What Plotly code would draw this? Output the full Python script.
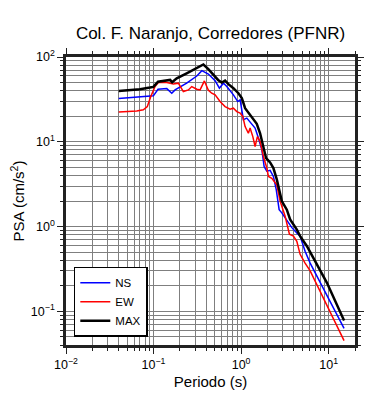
import plotly.graph_objects as go

# Periods (s) and PSA (cm/s^2)
T_ns = [0.04, 0.0643, 0.0912, 0.0995, 0.1125, 0.1416, 0.1615, 0.176, 0.239, 0.312,
        0.356, 0.423, 0.505, 0.565, 0.628, 0.687, 0.817, 0.916, 0.975, 1.062,
        1.162, 1.267, 1.445, 1.577, 1.724, 1.833, 1.966, 2.144, 2.339, 2.52,
        2.72, 2.917, 3.47, 3.8, 4.33, 4.72, 5.38, 6.15, 15.0]
psa_ns = [32.3, 33.6, 34.1, 34.8, 41.7, 42.4, 37.4, 40.9, 49.1, 59.7,
          69.0, 63.0, 52.6, 42.8, 49.1, 44.8, 35.7, 29.8, 31.2, 18.2,
          19.0, 16.9, 14.5, 11.1, 8.1, 5.1, 4.5, 4.6, 3.9, 2.72,
          1.58, 1.45, 1.11, 0.97, 0.84, 0.77, 0.51, 0.37, 0.063]

T_ew = [0.04, 0.0643, 0.0764, 0.0849, 0.0929, 0.104, 0.1135, 0.1416, 0.1683, 0.192,
        0.219, 0.25, 0.273, 0.312, 0.34, 0.381, 0.423, 0.462, 0.505, 0.575,
        0.656, 0.748, 0.817, 0.893, 0.975, 1.045, 1.111, 1.211, 1.267, 1.361,
        1.445, 1.535, 1.648, 1.799, 1.966, 2.052, 2.243, 2.557, 2.79, 3.184,
        3.565, 3.963, 4.33, 4.721, 5.38, 6.15, 15.0]
psa_ew = [22.5, 23.0, 23.8, 26.0, 34.1, 44.8, 49.9, 49.9, 48.1, 49.1,
          39.1, 40.9, 44.8, 41.7, 40.9, 52.2, 40.6, 37.4, 35.7, 29.8,
          26.0, 24.2, 24.9, 22.7, 21.8, 19.9, 15.1, 12.6, 14.5, 11.5,
          8.8, 11.5, 10.1, 6.7, 4.9, 3.9, 3.7, 3.1, 1.99, 1.32,
          0.81, 0.77, 0.67, 0.47, 0.37, 0.30, 0.045]

T_max = [0.04, 0.07, 0.091, 0.0995, 0.1125, 0.135, 0.1545, 0.163, 0.184, 0.239,
         0.312, 0.371, 0.42, 0.479, 0.546, 0.601, 0.656, 0.716, 0.817, 0.931,
         1.019, 1.111, 1.267, 1.383, 1.51, 1.648, 1.799, 1.931, 2.144, 2.339,
         2.557, 2.667, 2.917, 3.328, 3.631, 4.33, 4.721, 5.63, 9.53, 15.0]
psa_max = [39.8, 41.7, 43.6, 44.4, 51.2, 52.2, 53.7, 50.5, 56.1, 64.3,
           74.8, 81.6, 72.3, 61.4, 53.6, 49.9, 52.6, 47.8, 42.9, 37.4,
           32.7, 24.9, 20.8, 18.2, 16.3, 12.6, 8.8, 6.4, 5.7, 4.9,
           3.6, 2.98, 2.0, 1.58, 1.21, 0.92, 0.77, 0.59, 0.218, 0.078]

x_major = [0.01, 0.1, 1, 10]
x_major_text = ["10<sup>−2</sup>", "10<sup>−1</sup>", "10<sup>0</sup>", "10<sup>1</sup>"]
y_major = [0.1, 1, 10, 100]
y_major_text = ["10<sup>−1</sup>", "10<sup>0</sup>", "10<sup>1</sup>", "10<sup>2</sup>"]

x_minor = [m * d for d in [0.01, 0.1, 1, 10] for m in range(2, 10) if m * d <= 20]
y_minor = [m * d for d in [0.01, 0.1, 1, 10] for m in range(2, 10) if 0.04 <= m * d <= 100]

FONT = "Liberation Sans, Arial, Helvetica, sans-serif"
GRID = "#7f7f7f"

fig = go.Figure()
fig.add_trace(go.Scatter(x=T_ns, y=psa_ns, mode="lines", name="NS",
                         line=dict(color="#0000ff", width=1.5)))
fig.add_trace(go.Scatter(x=T_ew, y=psa_ew, mode="lines", name="EW",
                         line=dict(color="#ff0000", width=1.5)))
fig.add_trace(go.Scatter(x=T_max, y=psa_max, mode="lines", name="MAX",
                         line=dict(color="#000000", width=2.5)))

axis_common = dict(
    showgrid=True, gridcolor=GRID, gridwidth=1,
    showline=True, linecolor="#222222", linewidth=2.5, mirror="ticks",
    ticks="outside", ticklen=6, tickwidth=1, tickcolor="#222222",
    zeroline=False, automargin=False,
    tickfont=dict(size=12.5, color="black", family=FONT),
)

fig.update_xaxes(
    type="log", range=[-2, 1.30103],
    tickmode="array", tickvals=x_major, ticktext=x_major_text,
    minor=dict(tickmode="array", tickvals=x_minor, ticks="outside", ticklen=3,
               tickcolor="#222222", showgrid=True, gridcolor=GRID, gridwidth=1),
    title=dict(text="Periodo (s)", font=dict(size=15, color="black", family=FONT), standoff=6),
    **axis_common,
)
fig.update_yaxes(
    type="log", range=[-1.39794, 2],
    tickmode="array", tickvals=y_major, ticktext=y_major_text,
    minor=dict(tickmode="array", tickvals=y_minor, ticks="outside", ticklen=3,
               tickcolor="#222222", showgrid=True, gridcolor=GRID, gridwidth=1),
    title=dict(text="PSA (cm/s<sup>2</sup>)", font=dict(size=15, color="black", family=FONT), standoff=6),
    **axis_common,
)

# page body adds an 8px offset; margins compensate so the plot lands where the reference has it
fig.update_layout(
    width=390, height=400,
    margin=dict(l=58, r=43, t=49, b=63, autoexpand=False),
    paper_bgcolor="white", plot_bgcolor="white",
    font=dict(family=FONT, color="black"),
    title=dict(text="Col. F. Naranjo, Corredores (PFNR)", x=0.5, xref="paper",
               y=1 - 25 / 400, yref="container", xanchor="center", yanchor="middle",
               font=dict(size=17, color="black", family=FONT)),
    showlegend=True,
    legend=dict(x=0.027, y=0.272, xanchor="left", yanchor="top",
                bgcolor="white", bordercolor="black", borderwidth=1.5,
                font=dict(size=11.5, color="black", family=FONT),
                itemwidth=30, tracegroupgap=0),
)

fig.write_html("out.html")
